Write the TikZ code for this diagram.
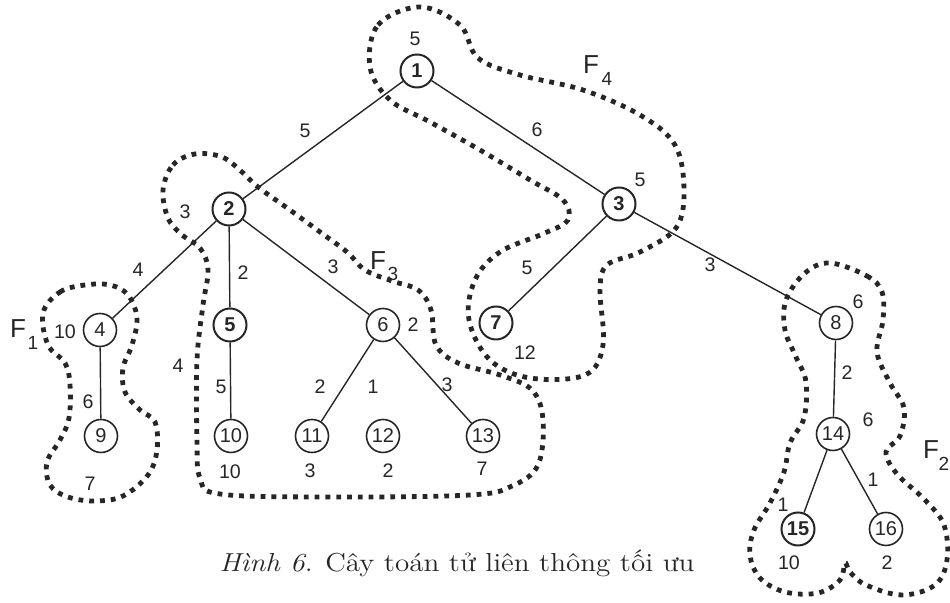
\documentclass[tikz,border=0pt]{standalone}
\usepackage{fontspec}
\setmainfont{Latin Modern Roman}
\newfontfamily\numfont{Liberation Sans}
\newfontfamily\capfont[FakeStretch=1.12]{Latin Modern Roman}
\begin{document}
\begin{tikzpicture}[x=0.5pt,y=-0.5pt,
  every node/.style={text=black!85},
  vtx/.style={circle,draw=black!85,line width=0.8pt,minimum size=16.5pt,inner sep=0pt,font=\numfont\fontsize{10}{12}\selectfont},
  bvtx/.style={vtx,line width=1pt,font=\numfont\bfseries\fontsize{10}{12}\selectfont},
  edge/.style={draw=black!85,line width=0.7pt},
  lbl/.style={inner sep=0pt,font=\numfont\fontsize{9.8}{11}\selectfont},
  flbl/.style={inner sep=0pt,font=\numfont\fontsize{13}{15}\selectfont},
  sublbl/.style={inner sep=0pt,font=\numfont\fontsize{9.5}{10}\selectfont},
  blob/.style={draw=black!85,line width=2.4pt,dash pattern=on 2.4pt off 3pt}]
\useasboundingbox (0,0) rectangle (950,603);
% vertices
\node[bvtx] (n1) at (417,71) {1};
\node[bvtx] (n2) at (229,209) {2};
\node[bvtx] (n3) at (619,204) {3};
\node[vtx] (n4) at (100,330) {4};
\node[bvtx] (n5) at (230,325) {5};
\node[vtx] (n6) at (383,325) {6};
\node[bvtx] (n7) at (496,323) {7};
\node[vtx] (n8) at (836,323) {8};
\node[vtx] (n9) at (101,436) {9};
\node[vtx] (n10) at (231,436) {10};
\node[vtx] (n11) at (312,436) {11};
\node[vtx] (n12) at (383,436) {12};
\node[vtx] (n13) at (483,436) {13};
\node[vtx] (n14) at (833,434) {14};
\node[bvtx] (n15) at (798,529) {15};
\node[vtx] (n16) at (886,529) {16};
% edges
\draw[edge] (n1) -- (n2);
\draw[edge] (n1) -- (n3);
\draw[edge] (n2) -- (n4);
\draw[edge] (n2) -- (n5);
\draw[edge] (n2) -- (n6);
\draw[edge] (n3) -- (n7);
\draw[edge] (n3) -- (n8);
\draw[edge] (n4) -- (n9);
\draw[edge] (n5) -- (n10);
\draw[edge] (n6) -- (n11);
\draw[edge] (n6) -- (n13);
\draw[edge] (n8) -- (n14);
\draw[edge] (n14) -- (n15);
\draw[edge] (n14) -- (n16);
% labels
\node[lbl] (l1) at (415,39) {5};
\node[lbl] (l2) at (305,131) {5};
\node[lbl] (l3) at (537,130) {6};
\node[lbl] (l4) at (640,180) {5};
\node[lbl] (l5) at (185,212) {3};
\node[lbl] (l6) at (138,270) {4};
\node[lbl] (l7) at (243,273) {2};
\node[lbl] (l8) at (333,267) {3};
\node[lbl] (l9) at (65,332) {10};
\node[lbl] (l10) at (178,366) {4};
\node[lbl] (l11) at (88,402) {6};
\node[lbl] (l12) at (221,387) {5};
\node[lbl] (l13) at (413,325) {2};
\node[lbl] (l14) at (320,387) {2};
\node[lbl] (l15) at (373,387) {1};
\node[lbl] (l16) at (447,385) {3};
\node[lbl] (l17) at (527,268) {5};
\node[lbl] (l18) at (525,353) {12};
\node[lbl] (l19) at (710,265) {3};
\node[lbl] (l20) at (858,302) {6};
\node[lbl] (l21) at (847,373) {2};
\node[lbl] (l22) at (868,420) {6};
\node[lbl] (l23) at (783,505) {1};
\node[lbl] (l24) at (873,480) {1};
\node[lbl] (l25) at (90,484) {7};
\node[lbl] (l26) at (230,472) {10};
\node[lbl] (l27) at (310,471) {3};
\node[lbl] (l28) at (388,471) {2};
\node[lbl] (l29) at (482,469) {7};
\node[lbl] (l30) at (789,563) {10};
\node[lbl] (l31) at (887,563) {2};
% F labels
\node[flbl] (f1) at (18,329) {F};
\node[sublbl] (f1s) at (33,343) {1};
\node[flbl] (f2) at (931,450) {F};
\node[sublbl] (f2s) at (944,464) {2};
\node[flbl] (f3) at (378,261) {F};
\node[sublbl] (f3s) at (393,274) {3};
\node[flbl] (f4) at (591,65) {F};
\node[sublbl] (f4s) at (607,79) {4};
% blobs
\draw[blob] plot[smooth cycle,tension=0.6] coordinates {(370,67) (378,25) (420,7) (460,25) (478,58) (520,75) (583,90) (640,115) (675,145) (684,190) (676,228) (640,252) (607,265) (600,290) (603,345) (585,375) (530,378) (490,360) (469,320) (475,280) (500,252) (545,233) (568,220) (563,200) (530,180) (480,150) (430,122) (390,100)};
\draw[blob] plot[smooth cycle,tension=0.6] coordinates {(163,190) (173,165) (195,154) (222,157) (242,172) (258,187) (290,210) (320,232) (347,252) (365,270) (392,281) (418,290) (431,310) (436,345) (458,363) (500,375) (532,390) (543,420) (538,465) (512,486) (470,495) (330,497) (220,494) (200,478) (197,440) (197,360) (203,305) (208,270) (200,248) (182,235) (168,218)};
\draw[blob] plot[smooth cycle,tension=0.6] coordinates {(43,313) (60,292) (85,285) (110,285) (128,295) (137,318) (132,345) (123,368) (125,392) (140,410) (155,422) (157,450) (148,475) (123,496) (95,501) (68,497) (50,485) (47,462) (60,440) (69,418) (70,385) (65,363) (48,345)};
\draw[blob] plot[smooth cycle,tension=0.6] coordinates {(830,263) (867,276) (882,292) (883,320) (877,352) (890,383) (904,408) (900,436) (886,452) (897,474) (925,500) (944,525) (947,560) (935,585) (902,595) (866,585) (850,572) (845,563) (840,580) (818,593) (785,592) (760,578) (750,555) (754,530) (770,503) (784,472) (790,443) (804,418) (806,382) (796,357) (785,330) (786,300) (805,273)};
% caption
\node[inner sep=0pt,font=\capfont\fontsize{13}{15}\selectfont] (cap) at (457,563) {\textit{Hình 6}. Cây toán tử liên thông tối ưu};
\end{tikzpicture}
\end{document}
